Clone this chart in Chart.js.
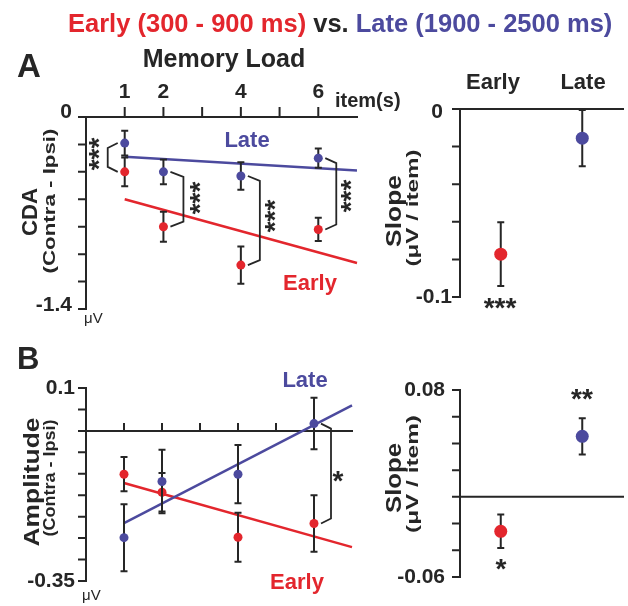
<!DOCTYPE html>
<html>
<head>
<meta charset="utf-8">
<script src="https://cdn.jsdelivr.net/npm/chart.js@4.4.1/dist/chart.umd.min.js"></script>
<style>
  html, body { margin: 0; padding: 0; background: #fff; }
  #wrap { position: relative; width: 628px; height: 606px; }
  #wrap canvas { position: absolute; left: 0; top: 0; }
</style>
</head>
<body>
<div id="wrap">
  <canvas id="cdaLoad" width="628" height="606"></canvas>
  <canvas id="cdaSlope" width="628" height="606"></canvas>
  <canvas id="ampLoad" width="628" height="606"></canvas>
  <canvas id="ampSlope" width="628" height="606"></canvas>
</div>
<script>
const RED = '#e3262d';
const BLUE = '#4c4a9e';
const INK = '#262626';
const FONT = '"Liberation Sans", Arial, sans-serif';

// memory load (items) and the range the fit lines are drawn over
const loads = [1, 2, 4, 6];
const loadTicks = [1, 2, 3, 4, 5, 6];
const loadLabels = ['1', '2', '4', '6'];
const fitX = [1, 7];

// panel A - CDA (uV)
const cdaEarly = [-0.40, -0.80, -1.08, -0.82];
const cdaEarlyErr = [0.105, 0.11, 0.135, 0.085];
const cdaLate = [-0.19, -0.40, -0.43, -0.30];
const cdaLateErr = [0.09, 0.09, 0.10, 0.07];
const cdaEarlyFit = [-0.60, -1.065];
const cdaLateFit = [-0.29, -0.39];
const cdaTicks = [0, -0.2, -0.4, -0.6, -0.8, -1.0, -1.2, -1.4];

// panel A - slopes (uV / item), Early at x=1, Late at x=2
const cdaSlopeEarly = -0.0772;
const cdaSlopeEarlyErr = 0.017;
const cdaSlopeLate = -0.0155;
const cdaSlopeLateErr = 0.015;
const cdaSlopeTicks = [0, -0.02, -0.04, -0.06, -0.08, -0.1];

// panel B - amplitude (uV)
const ampEarly = [-0.101, -0.143, -0.248, -0.216];
const ampEarlyErr = [0.040, 0.045, 0.057, 0.066];
const ampLate = [-0.249, -0.118, -0.101, 0.017];
const ampLateErr = [0.078, 0.074, 0.068, 0.060];
const ampEarlyFit = [-0.1216, -0.271];
const ampLateFit = [-0.215, 0.0596];
const ampTicks = [0.1, 0.05, 0, -0.05, -0.1, -0.15, -0.2, -0.25, -0.3, -0.35];

// panel B - slopes (uV / item)
const ampSlopeEarly = -0.0258;
const ampSlopeEarlyErr = 0.0125;
const ampSlopeLate = 0.0453;
const ampSlopeLateErr = 0.0135;
const ampSlopeTicks = [0.08, 0.06, 0.04, 0.02, 0, -0.02, -0.04, -0.06];

const pts = (xs, ys) => xs.map((x, i) => ({ x: x, y: ys[i] }));

// extra drawing per canvas: axes, error bars, brackets, labels
const decorCfg = {};

function drawText(ctx, s, x, y, o) {
  ctx.save();
  ctx.font = o.font;
  ctx.fillStyle = o.color || INK;
  ctx.textAlign = o.align || 'center';
  ctx.textBaseline = o.base || 'alphabetic';
  ctx.translate(x, y);
  if (o.rot) ctx.rotate(o.rot);
  if (o.w) ctx.scale(o.w / ctx.measureText(s).width, 1);
  ctx.fillText(s, 0, o.dy || 0);
  ctx.restore();
}

const decor = {
  id: 'decor',
  beforeDatasetsDraw(chart) {
    const ax = decorCfg[chart.canvas.id].axes;
    const ctx = chart.ctx, xs = chart.scales.x, ys = chart.scales.y;
    ctx.save();
    ctx.strokeStyle = INK;
    ctx.lineWidth = 2;
    ctx.lineCap = 'square';
    const yx = xs.getPixelForValue(ax.yAxisX);
    ctx.beginPath();
    ctx.moveTo(yx, ys.getPixelForValue(ax.yTicks[0]));
    ctx.lineTo(yx, ys.getPixelForValue(ax.yTicks[ax.yTicks.length - 1]));
    ax.yTicks.forEach(v => {
      const py = ys.getPixelForValue(v);
      ctx.moveTo(yx, py);
      ctx.lineTo(yx - ax.yTickLen, py);
    });
    const xy = ys.getPixelForValue(ax.xAxisY);
    ctx.moveTo(xs.getPixelForValue(ax.xFrom), xy);
    ctx.lineTo(xs.getPixelForValue(ax.xTo), xy);
    (ax.xTicks || []).forEach(v => {
      const px = xs.getPixelForValue(v);
      ctx.moveTo(px, xy);
      ctx.lineTo(px, xy - ax.xTickLen);
    });
    ctx.stroke();
    ctx.restore();
    (ax.yLabels || []).forEach(l => {
      drawText(ctx, l.t, yx - l.gap, ys.getPixelForValue(l.v) + (l.dy || 0),
        { font: 'bold 21px ' + FONT, align: 'right', base: 'middle' });
    });
    (ax.xLabels || []).forEach(l => {
      drawText(ctx, l.t, xs.getPixelForValue(l.v), l.y, { font: 'bold 21px ' + FONT });
    });
  },
  // error bars go under each point set
  beforeDatasetDraw(chart, args) {
    const ds = chart.data.datasets[args.index];
    if (!ds.err) return;
    const ctx = chart.ctx, xs = chart.scales.x, ys = chart.scales.y;
    ctx.save();
    ctx.strokeStyle = INK;
    ctx.lineWidth = 2;
    ds.data.forEach((p, i) => {
      const px = xs.getPixelForValue(p.x);
      const top = ys.getPixelForValue(p.y + ds.err[i]);
      const bot = ys.getPixelForValue(p.y - ds.err[i]);
      ctx.beginPath();
      ctx.moveTo(px, top); ctx.lineTo(px, bot);
      ctx.moveTo(px - 3.5, top); ctx.lineTo(px + 3.5, top);
      ctx.moveTo(px - 3.5, bot); ctx.lineTo(px + 3.5, bot);
      ctx.stroke();
    });
    ctx.restore();
  },
  afterDraw(chart) {
    const cfg = decorCfg[chart.canvas.id];
    const ctx = chart.ctx, xs = chart.scales.x, ys = chart.scales.y;
    ctx.save();
    ctx.strokeStyle = INK;
    ctx.lineWidth = 1.8;
    (cfg.brackets || []).forEach(b => {
      const px = xs.getPixelForValue(b.x);
      const p1 = ys.getPixelForValue(b.y1);
      const p2 = ys.getPixelForValue(b.y2);
      const s = b.side;
      ctx.beginPath();
      ctx.moveTo(px + s * 7, p1);
      ctx.lineTo(px + s * b.off, p1 + 5);
      ctx.lineTo(px + s * b.off, p2 - 5);
      ctx.lineTo(px + s * 7, p2);
      ctx.stroke();
    });
    ctx.restore();
    (cfg.texts || []).forEach(t => drawText(ctx, t.s, t.x, t.y, t));
  }
};

function makeChart(id, pad, xr, yr, datasets, cfg) {
  decorCfg[id] = cfg;
  return new Chart(document.getElementById(id), {
    type: 'scatter',
    data: { datasets: datasets },
    options: {
      responsive: false,
      animation: false,
      events: [],
      layout: { padding: pad, autoPadding: false },
      plugins: { legend: { display: false }, tooltip: { enabled: false } },
      scales: {
        x: { type: 'linear', display: false, min: xr[0], max: xr[1] },
        y: { type: 'linear', display: false, min: yr[0], max: yr[1] }
      }
    },
    plugins: [decor]
  });
}

function pointSet(data, err, color, r) {
  return { data: data, err: err, backgroundColor: color, borderWidth: 0,
    pointRadius: r, pointHoverRadius: r, showLine: false };
}
function fitSet(ys, color) {
  return { data: pts(fitX, ys), borderColor: color, borderWidth: 2.5,
    pointRadius: 0, showLine: true, clip: false };
}

const star = (s, x, y, rot) => ({ s: s, x: x, y: y, rot: rot, font: 'bold 28px ' + FONT,
  base: 'alphabetic', dy: rot ? 14 : 0 });
const up = -Math.PI / 2;

// A: CDA vs memory load
makeChart('cdaLoad', { left: 86, right: 271, top: 117, bottom: 297 }, [0, 7], [-1.4, 0], [
  pointSet(pts(loads, cdaLate), cdaLateErr, BLUE, 4.5),
  pointSet(pts(loads, cdaEarly), cdaEarlyErr, RED, 4.5),
  fitSet(cdaLateFit, BLUE),
  fitSet(cdaEarlyFit, RED)
], {
  axes: {
    yAxisX: 0, yTicks: cdaTicks, yTickLen: 7,
    yLabels: [{ v: 0, t: '0', gap: 14, dy: -5 }, { v: -1.4, t: '-1.4', gap: 14, dy: -4 }],
    xAxisY: 0, xFrom: 0, xTo: 7, xTicks: loadTicks, xTickLen: 9,
    xLabels: loads.map((v, i) => ({ v: v, t: loadLabels[i], y: 98 }))
  },
  brackets: [
    { x: 1, y1: cdaLate[0], y2: cdaEarly[0], side: -1, off: 17 },
    { x: 2, y1: cdaLate[1], y2: cdaEarly[1], side: 1, off: 20 },
    { x: 4, y1: cdaLate[2], y2: cdaEarly[2], side: 1, off: 19 },
    { x: 6, y1: cdaLate[3], y2: cdaEarly[3], side: 1, off: 18 }
  ],
  texts: [
    { s: 'A', x: 17, y: 77, font: 'bold 33px ' + FONT, align: 'left' },
    { s: 'Memory Load', x: 224, y: 67, font: 'bold 25px ' + FONT },
    { s: 'item(s)', x: 335, y: 107, font: 'bold 20px ' + FONT, align: 'left' },
    { s: 'CDA', x: 31, y: 212, rot: up, base: 'middle', font: 'bold 22px ' + FONT, w: 48 },
    { s: '(Contra - Ipsi)', x: 50, y: 201, rot: up, base: 'middle', font: 'bold 17px ' + FONT, w: 145 },
    { s: '\u03bcV', x: 84, y: 323, font: '15px ' + FONT, align: 'left' },
    { s: 'Late', x: 247, y: 147, font: 'bold 22px ' + FONT, color: BLUE },
    { s: 'Early', x: 310, y: 290, font: 'bold 22px ' + FONT, color: RED },
    star('***', 94, 154, up), star('***', 195, 198, up),
    star('***', 270, 216, up), star('***', 346, 196, up)
  ]
});

// A: slopes
makeChart('cdaSlope', { left: 460, right: 5, top: 109, bottom: 309 }, [0.5, 2.5], [-0.1, 0], [
  pointSet(pts([1], [cdaSlopeEarly]), [cdaSlopeEarlyErr], RED, 6.5),
  pointSet(pts([2], [cdaSlopeLate]), [cdaSlopeLateErr], BLUE, 6.5)
], {
  axes: {
    yAxisX: 0.5, yTicks: cdaSlopeTicks, yTickLen: 7,
    yLabels: [{ v: 0, t: '0', gap: 17, dy: 3 }, { v: -0.1, t: '-0.1', gap: 8 }],
    xAxisY: 0, xFrom: 0.5, xTo: 2.5
  },
  texts: [
    { s: 'Early', x: 493, y: 89, font: 'bold 22px ' + FONT },
    { s: 'Late', x: 583, y: 89, font: 'bold 22px ' + FONT },
    { s: 'Slope', x: 395, y: 211, rot: up, base: 'middle', font: 'bold 22px ' + FONT, w: 72 },
    { s: '(\u03bcV / item)', x: 413, y: 208, rot: up, base: 'middle', font: 'bold 17px ' + FONT, w: 117 },
    star('***', 500, 317)
  ]
});

// B: amplitude vs memory load
makeChart('ampLoad', { left: 86, right: 276, top: 388, bottom: 25 }, [0, 7], [-0.35, 0.1], [
  pointSet(pts(loads, ampLate), ampLateErr, BLUE, 4.5),
  pointSet(pts(loads, ampEarly), ampEarlyErr, RED, 4.5),
  fitSet(ampLateFit, BLUE),
  fitSet(ampEarlyFit, RED)
], {
  axes: {
    yAxisX: 0, yTicks: ampTicks, yTickLen: 7,
    yLabels: [{ v: 0.1, t: '0.1', gap: 11 }, { v: -0.35, t: '-0.35', gap: 11 }],
    xAxisY: 0, xFrom: 0, xTo: 7, xTicks: loadTicks, xTickLen: 7
  },
  brackets: [
    { x: 6, y1: ampLate[3], y2: ampEarly[3], side: 1, off: 17 }
  ],
  texts: [
    { s: 'B', x: 17, y: 369, font: 'bold 31px ' + FONT, align: 'left' },
    { s: 'Amplitude', x: 33, y: 482, rot: up, base: 'middle', font: 'bold 22px ' + FONT, w: 129 },
    { s: '(Contra - Ipsi)', x: 50, y: 478, rot: up, base: 'middle', font: 'bold 17px ' + FONT, w: 117 },
    { s: '\u03bcV', x: 82, y: 600, font: '15px ' + FONT, align: 'left' },
    { s: 'Late', x: 305, y: 387, font: 'bold 22px ' + FONT, color: BLUE },
    { s: 'Early', x: 297, y: 589, font: 'bold 22px ' + FONT, color: RED },
    star('*', 338, 490)
  ]
});

// B: slopes
makeChart('ampSlope', { left: 460, right: 5, top: 390, bottom: 29 }, [0.5, 2.5], [-0.06, 0.08], [
  pointSet(pts([1], [ampSlopeEarly]), [ampSlopeEarlyErr], RED, 6.5),
  pointSet(pts([2], [ampSlopeLate]), [ampSlopeLateErr], BLUE, 6.5)
], {
  axes: {
    yAxisX: 0.5, yTicks: ampSlopeTicks, yTickLen: 7,
    yLabels: [{ v: 0.08, t: '0.08', gap: 15 }, { v: -0.06, t: '-0.06', gap: 15 }],
    xAxisY: 0, xFrom: 0.5, xTo: 2.5
  },
  texts: [
    { s: 'Slope', x: 395, y: 478, rot: up, base: 'middle', font: 'bold 22px ' + FONT, w: 70 },
    { s: '(\u03bcV / item)', x: 413, y: 474, rot: up, base: 'middle', font: 'bold 17px ' + FONT, w: 118 },
    star('**', 582, 408), star('*', 501, 578)
  ]
});

// figure title, drawn in three colours on the top canvas
(function () {
  const ctx = document.getElementById('ampSlope').getContext('2d');
  const parts = [['Early (300 - 900 ms) ', RED], ['vs. ', INK], ['Late (1900 - 2500 ms)', BLUE]];
  ctx.save();
  ctx.font = 'bold 25.5px ' + FONT;
  let x = 68;
  parts.forEach(p => {
    ctx.fillStyle = p[1];
    ctx.fillText(p[0], x, 32);
    x += ctx.measureText(p[0]).width;
  });
  ctx.restore();
})();
</script>
</body>
</html>
